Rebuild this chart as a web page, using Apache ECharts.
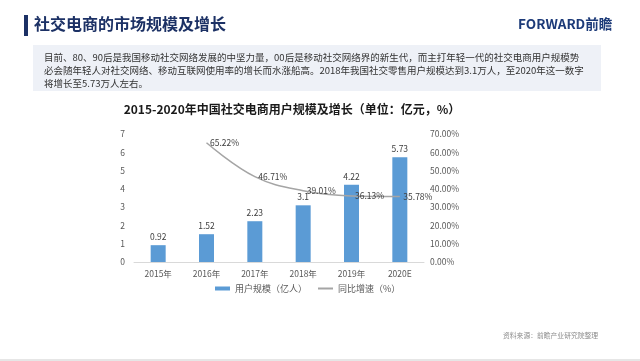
<!DOCTYPE html>
<html><head><meta charset="utf-8">
<script src="https://cdn.jsdelivr.net/npm/echarts@6/dist/echarts.min.js"></script>
<style>html,body{margin:0;padding:0;background:#fff}#c{width:640px;height:361px}</style>
</head><body><div id="c"></div>
<script>
const categories = ['2015年','2016年','2017年','2018年','2019年','2020E'];
const users = [0.92, 1.52, 2.23, 3.1, 4.22, 5.73];
const growth = [null, 0.6522, 0.4671, 0.3901, 0.3613, 0.3578];
const leftTicks = [0,1,2,3,4,5,6,7];
const rightTicks = ['0.00%','10.00%','20.00%','30.00%','40.00%','50.00%','60.00%','70.00%'];

const F = '"Noto Sans CJK SC", "Noto Sans", sans-serif';
const chart = echarts.init(document.getElementById('c'), null, {renderer:'canvas'});
chart.setOption({
  backgroundColor:'#ffffff',
  animation:false,
  textStyle:{fontFamily:F},
  graphic:[
    {type:'rect', shape:{x:24,y:15,width:4,height:21}, style:{fill:'#1c3165'}},
    {type:'text', left:34, top:16, style:{text:'社交电商的市场规模及增长', font:'bold 16px '+F, fill:'#1c3165'}},
    {type:'text', left:518, top:17, style:{text:'FORWARD前瞻', font:'bold 13.5px '+F, fill:'#1c3a78'}},
    {type:'rect', shape:{x:33,y:45,width:568,height:46}, style:{fill:'#eef1f7'}},
    {type:'text', left:44, top:51, style:{text:'目前、80、90后是我国移动社交网络发展的中坚力量，00后是移动社交网络界的新生代，而主打年轻一代的社交电商用户规模势\n必会随年轻人对社交网络、移动互联网使用率的增长而水涨船高。2018年我国社交零售用户规模达到3.1万人，至2020年这一数字\n将增长至5.73万人左右。', font:'9.5px '+F, fill:'#333333', lineHeight:13}},
    {type:'text', left:503, top:332, style:{text:'资料来源：前瞻产业研究院整理', font:'6.8px '+F, fill:'#8c8c8c'}},
    {type:'rect', shape:{x:0,y:359,width:640,height:2}, style:{fill:'#e6e6e6'}}
  ],
  title:{text:'2015-2020年中国社交电商用户规模及增长（单位：亿元，%）', left:287, top:98, textAlign:'center',
    textStyle:{fontSize:12, fontWeight:'bold', color:'#1a1a1a', fontFamily:F}},
  legend:{bottom:63, left:210, itemGap:10, textStyle:{fontSize:9,color:'#595959'},
    data:[{name:'用户规模（亿人）', icon:'rect', itemStyle:{color:'#5b9bd5'}},{name:'同比增速（%）'}],
    itemWidth:15, itemHeight:4},
  grid:{left:134, right:216, top:134, bottom:99},
  xAxis:{type:'category', data:categories, axisLine:{lineStyle:{color:'#d9d9d9'}}, axisTick:{show:false},
    axisLabel:{fontSize:8.5, color:'#595959', margin:8}},
  yAxis:[
    {type:'value', min:0, max:7, interval:1, splitLine:{show:false}, axisLine:{show:false}, axisTick:{show:false},
      axisLabel:{fontSize:8.5, color:'#595959', margin:9, formatter:v=>String(leftTicks[v])}},
    {type:'value', min:0, max:0.7, interval:0.1, splitLine:{show:false}, axisLine:{show:false}, axisTick:{show:false},
      axisLabel:{fontSize:8.5, color:'#595959', margin:6, align:'left', formatter:v=>rightTicks[Math.round(v*10)]}}
  ],
  series:[
    {name:'用户规模（亿人）', type:'bar', data:users, barWidth:15, itemStyle:{color:'#5b9bd5'},
      label:{show:true, position:'top', fontSize:8.5, color:'#404040', distance:4}},
    {name:'同比增速（%）', type:'line', yAxisIndex:1, data:growth, smooth:0.4, symbol:'circle', symbolSize:1,
      itemStyle:{color:'rgba(0,0,0,0)'}, lineStyle:{color:'#a5a5a5', width:1.5},
      label:{show:true, position:'right', distance:3, fontSize:8.5, color:'#404040',
        formatter:p=>(p.value*100).toFixed(2)+'%'}}
  ]
});
</script></body></html>
